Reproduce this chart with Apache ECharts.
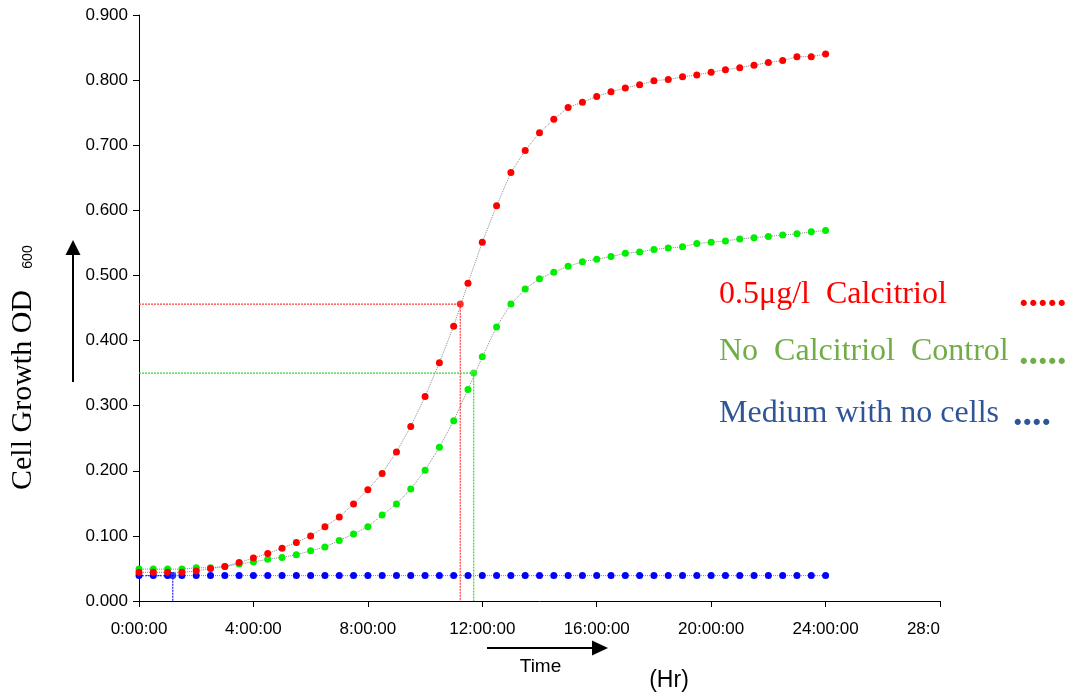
<!DOCTYPE html>
<html>
<head>
<meta charset="utf-8">
<script src="https://cdn.jsdelivr.net/npm/echarts@6/dist/echarts.min.js"></script>
<style>
  html, body { margin: 0; padding: 0; background: #ffffff; }
  #chart { width: 1075px; height: 695px; }
</style>
</head>
<body>
<div id="chart"></div>
<script>
// Sampling times (hours)
const hours = [0, 0.5, 1, 1.5, 2, 2.5, 3, 3.5, 4, 4.5, 5, 5.5, 6, 6.5, 7, 7.5, 8, 8.5, 9, 9.5,
  10, 10.5, 11, 11.5, 12, 12.5, 13, 13.5, 14, 14.5, 15, 15.5, 16, 16.5, 17, 17.5, 18, 18.5, 19, 19.5,
  20, 20.5, 21, 21.5, 22, 22.5, 23, 23.5, 24];

// OD600 readings
const calcitriol = [0.044, 0.044, 0.044, 0.044, 0.046, 0.050, 0.053, 0.059, 0.066, 0.073,
  0.081, 0.090, 0.100, 0.114, 0.129, 0.149, 0.171, 0.196, 0.229, 0.268,
  0.314, 0.366, 0.422, 0.488, 0.551, 0.607, 0.658, 0.692, 0.719, 0.740,
  0.758, 0.766, 0.775, 0.782, 0.788, 0.793, 0.799, 0.801, 0.805, 0.808,
  0.812, 0.816, 0.819, 0.823, 0.827, 0.830, 0.836, 0.836, 0.840];

const control = [0.049, 0.049, 0.049, 0.049, 0.051, 0.051, 0.053, 0.057, 0.060, 0.064,
  0.067, 0.071, 0.077, 0.083, 0.093, 0.103, 0.114, 0.132, 0.149, 0.172,
  0.201, 0.236, 0.277, 0.325, 0.375, 0.421, 0.456, 0.479, 0.495, 0.505,
  0.514, 0.521, 0.525, 0.529, 0.534, 0.536, 0.540, 0.542, 0.544, 0.549,
  0.551, 0.553, 0.556, 0.558, 0.560, 0.562, 0.564, 0.567, 0.569];

const medium = [0.039, 0.039, 0.039, 0.039, 0.039, 0.039, 0.039, 0.039, 0.039, 0.039,
  0.039, 0.039, 0.039, 0.039, 0.039, 0.039, 0.039, 0.039, 0.039, 0.039,
  0.039, 0.039, 0.039, 0.039, 0.039, 0.039, 0.039, 0.039, 0.039, 0.039,
  0.039, 0.039, 0.039, 0.039, 0.039, 0.039, 0.039, 0.039, 0.039, 0.039,
  0.039, 0.039, 0.039, 0.039, 0.039, 0.039, 0.039, 0.039, 0.039];

// Reference points marked with drop lines [hour, OD]
const calcitriolMark = [11.23, 0.456];
const controlMark = [11.70, 0.350];
const mediumMark = [1.18, 0.039];

// Axis tick labels
const xTickLabels = ['0:00:00', '4:00:00', '8:00:00', '12:00:00', '16:00:00', '20:00:00', '24:00:00', '28:0'];

const pair = (vals) => hours.map((h, i) => [h, vals[i]]);

function curve(name, vals, color) {
  return {
    name: name,
    type: 'line',
    data: pair(vals),
    symbol: 'circle',
    symbolSize: 7,
    showAllSymbol: true,
    itemStyle: { color: color },
    lineStyle: { color: '#8c8c8c', width: 1, type: 'dotted' },
    z: 3
  };
}

function dropLines(mark, color) {
  return {
    type: 'line',
    data: [[0, mark[1]], [mark[0], mark[1]], [mark[0], 0]],
    symbol: 'none',
    lineStyle: { color: color, width: 1.2, type: [2, 1] },
    silent: true,
    z: 2
  };
}

function markPoint(mark, color) {
  return {
    type: 'scatter',
    data: [mark],
    symbol: 'circle',
    symbolSize: 7,
    itemStyle: { color: color },
    z: 4
  };
}

const chart = echarts.init(document.getElementById('chart'), null, { renderer: 'canvas' });

const sans = '"Liberation Sans", Arial, sans-serif';
const serif = '"Liberation Serif", "Times New Roman", serif';

chart.setOption({
  animation: false,
  backgroundColor: '#ffffff',
  grid: { left: 139, right: 135, top: 15, bottom: 94, containLabel: false, outerBoundsMode: 'none' },
  xAxis: {
    type: 'value',
    min: 0,
    max: 28,
    interval: 4,
    axisLine: { lineStyle: { color: '#000', width: 1 } },
    axisTick: { show: true, length: 6, lineStyle: { color: '#000' } },
    splitLine: { show: false },
    axisLabel: {
      color: '#000',
      fontFamily: sans,
      fontSize: 17,
      margin: 20,
      alignMaxLabel: 'right',
      formatter: (v) => xTickLabels[Math.round(v / 4)]
    }
  },
  yAxis: {
    type: 'value',
    min: 0,
    max: 0.9,
    interval: 0.1,
    axisLine: { show: true, lineStyle: { color: '#000', width: 1 } },
    axisTick: { show: true, length: 6, lineStyle: { color: '#000' } },
    splitLine: { show: false },
    axisLabel: {
      color: '#000',
      fontFamily: sans,
      fontSize: 17,
      margin: 11,
      formatter: (v) => v.toFixed(3)
    }
  },
  series: [
    dropLines(calcitriolMark, '#ff3b3b'),
    dropLines(controlMark, '#2fdc2f'),
    dropLines(mediumMark, '#2020ff'),
    curve('Medium with no cells', medium, '#0000ff'),
    curve('No Calcitriol Control', control, '#00ee00'),
    curve('0.5μg/l Calcitriol', calcitriol, '#ff0000'),
    markPoint(mediumMark, '#0000ff'),
    markPoint(controlMark, '#00ee00'),
    markPoint(calcitriolMark, '#ff0000')
  ],
  graphic: [
    // y-axis title
    {
      type: 'text', x: 23, y: 390, rotation: Math.PI / 2,
      style: { text: 'Cell Growth OD', font: '30px ' + serif, fill: '#000', align: 'center', verticalAlign: 'middle' }
    },
    {
      type: 'text', x: 28, y: 257, rotation: Math.PI / 2,
      style: { text: '600', font: '14px ' + sans, fill: '#000', align: 'center', verticalAlign: 'middle' }
    },
    // upward arrow
    { type: 'line', shape: { x1: 73, y1: 382, x2: 73, y2: 252 }, style: { stroke: '#000', lineWidth: 2 } },
    { type: 'polygon', shape: { points: [[65.5, 255], [80.5, 255], [73, 240]] }, style: { fill: '#000' } },
    // time arrow
    { type: 'line', shape: { x1: 487, y1: 648, x2: 595, y2: 648 }, style: { stroke: '#000', lineWidth: 2 } },
    { type: 'polygon', shape: { points: [[592, 640.5], [592, 655.5], [608, 648]] }, style: { fill: '#000' } },
    { type: 'text', x: 540.5, y: 666.5, style: { text: 'Time', font: '19px ' + sans, fill: '#000', align: 'center', verticalAlign: 'middle' } },
    { type: 'text', x: 669, y: 681, style: { text: '(Hr)', font: '23px ' + sans, fill: '#000', align: 'center', verticalAlign: 'middle' } },
    // series key
    { type: 'text', x: 719, y: 294.5, style: { text: '0.5μg/l  Calcitriol', font: '32px ' + serif, fill: '#ff0000', align: 'left', verticalAlign: 'middle' } },
    { type: 'text', x: 1019, y: 296, style: { text: '.....', font: 'bold 38px ' + serif, fill: '#ff0000', align: 'left', verticalAlign: 'middle' } },
    { type: 'text', x: 719, y: 352, style: { text: 'No  Calcitriol  Control', font: '32px ' + serif, fill: '#70ad47', align: 'left', verticalAlign: 'middle' } },
    { type: 'text', x: 1019, y: 354, style: { text: '.....', font: 'bold 38px ' + serif, fill: '#70ad47', align: 'left', verticalAlign: 'middle' } },
    { type: 'text', x: 719, y: 413.5, style: { text: 'Medium with no cells', font: '32px ' + serif, fill: '#2f5597', align: 'left', verticalAlign: 'middle' } },
    { type: 'text', x: 1013, y: 415.5, style: { text: '....', font: 'bold 38px ' + serif, fill: '#2f5597', align: 'left', verticalAlign: 'middle' } }
  ]
});
</script>
</body>
</html>
